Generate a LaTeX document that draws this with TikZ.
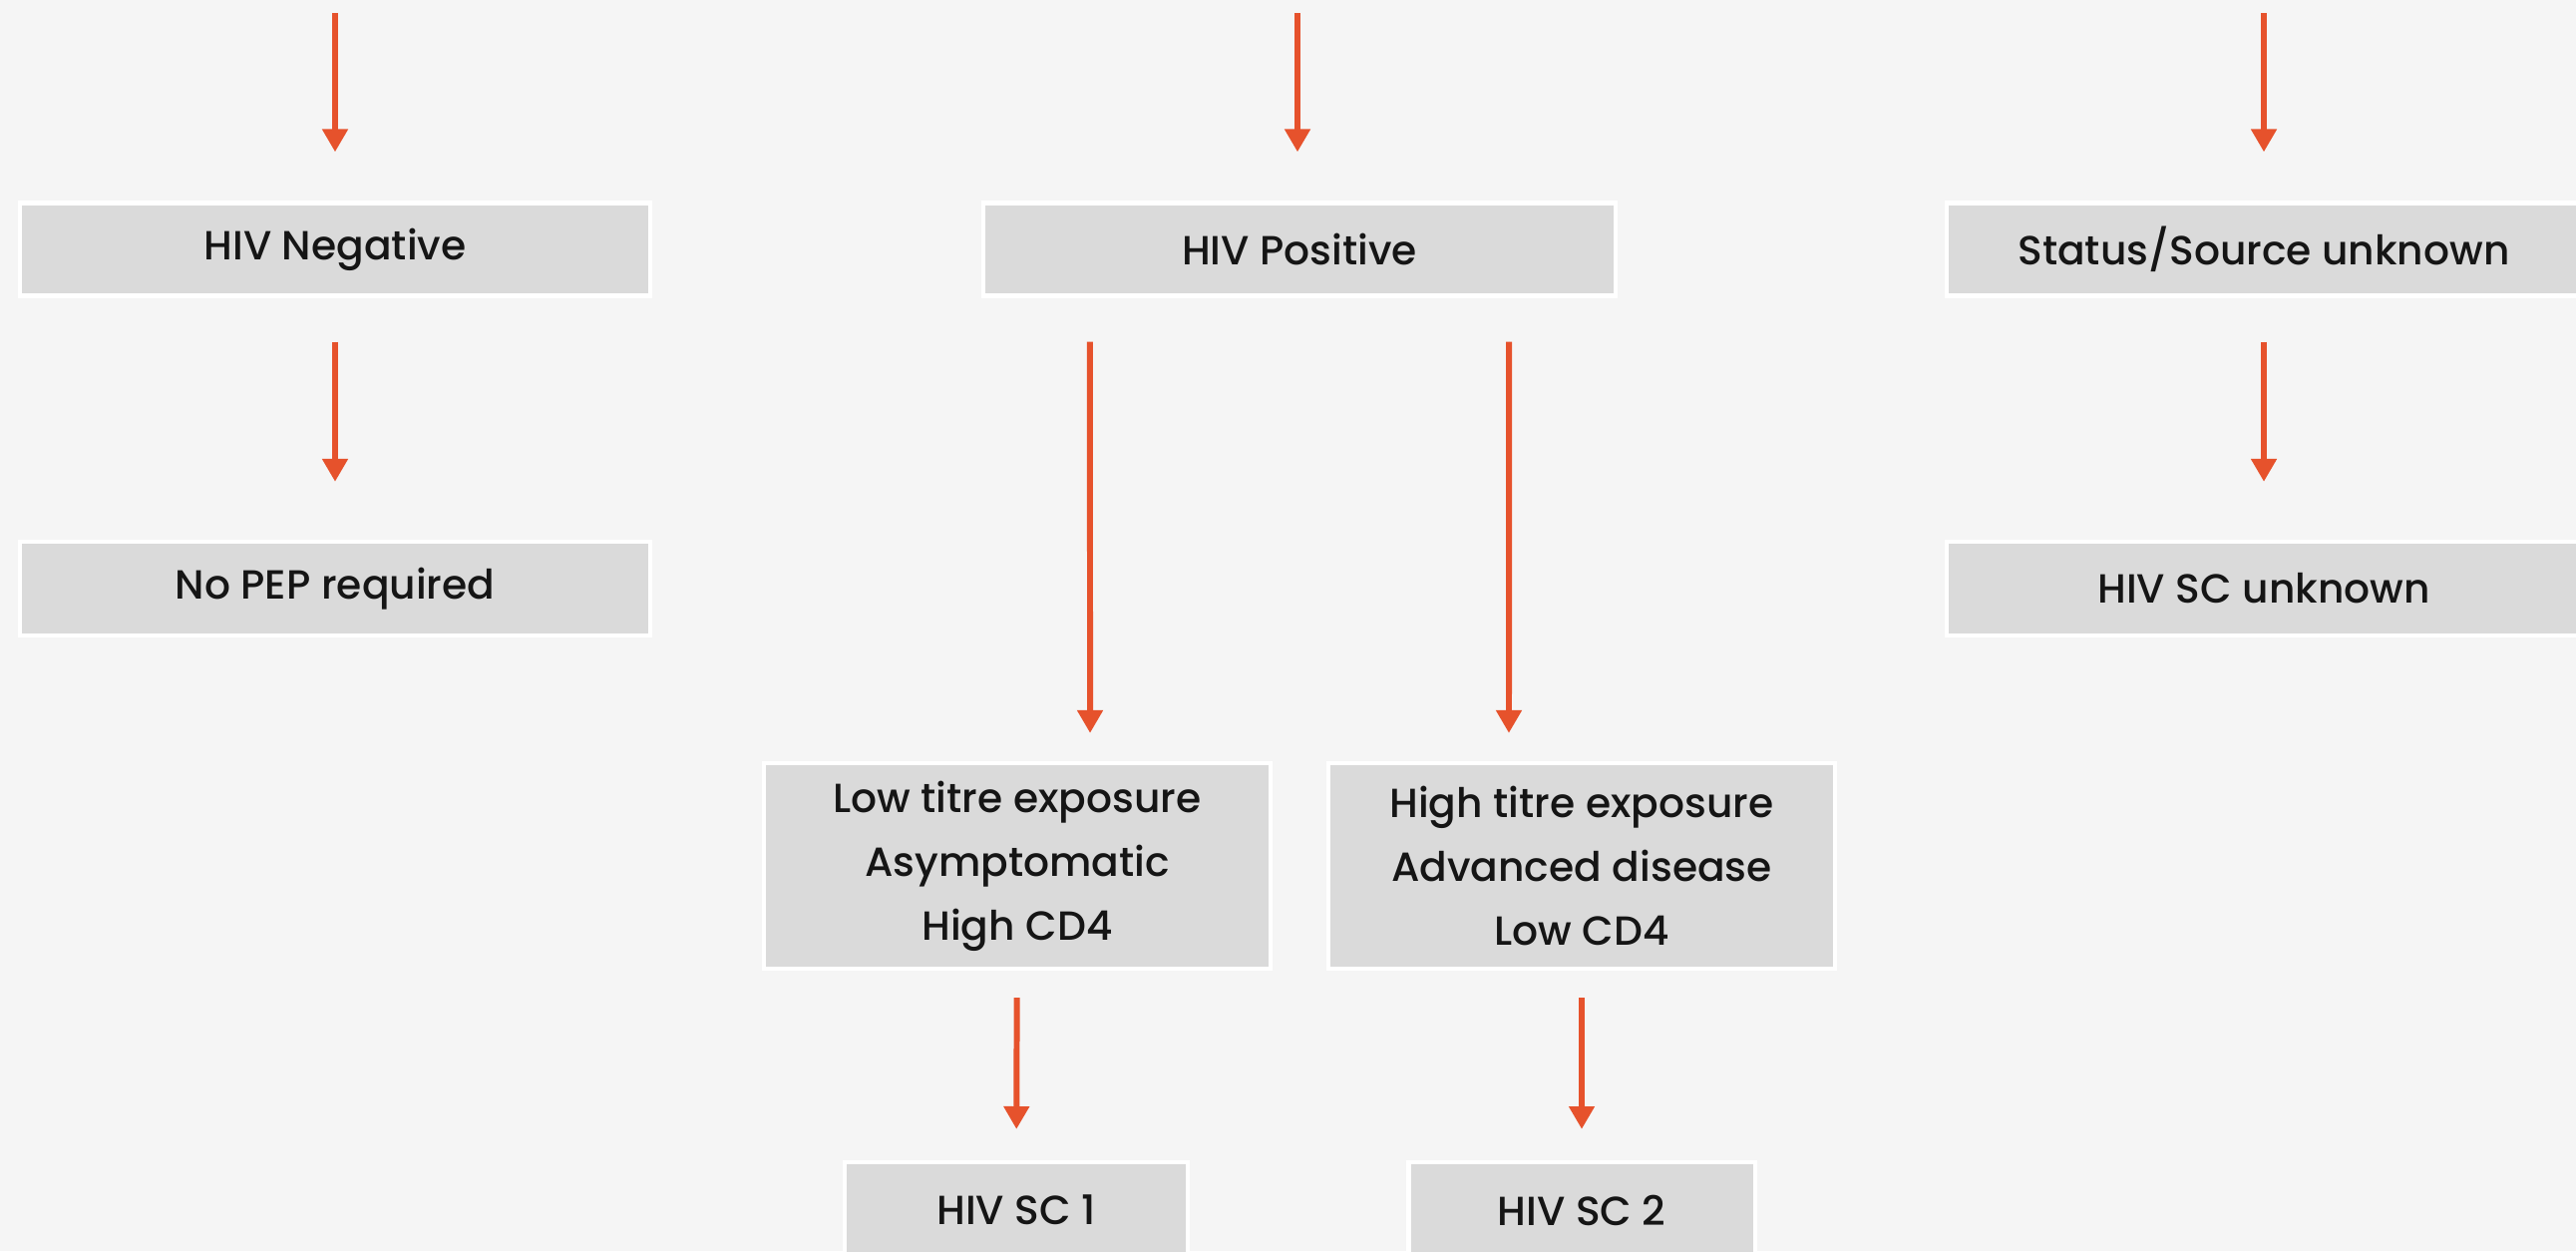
\documentclass[tikz,border=0pt]{standalone}
\usepackage{fontspec}
\IfFontExistsTF{Poppins Medium}{\setmainfont{Poppins Medium}}{\setmainfont{Poppins}}
\usepackage{xcolor}
\usetikzlibrary{arrows.meta, positioning}

\definecolor{bgGray}{HTML}{F5F5F5}
\definecolor{boxGray}{HTML}{DADADA}
\definecolor{arrowRed}{HTML}{E6522C}
\definecolor{textBlack}{HTML}{151515}

\begin{document}
\begin{tikzpicture}[>={Triangle[width=7pt,length=6.5pt]}, x=0.01cm, y=-0.01cm,
    box/.style={rectangle, fill=boxGray, draw=white, line width=1.2pt,
        text=textBlack, font=\fontsize{11.6}{18.2}\selectfont, align=center, inner sep=0pt},
    arr/.style={->, draw=arrowRed, fill=arrowRed, line width=1.7pt}]

    % =================================================================
    % 1. NỀN VÀ KHUNG HÌNH
    % =================================================================
    \fill[bgGray] (0,0) rectangle (2583,1254);
    \useasboundingbox (0,0) rectangle (2583,1254);
    \clip (0,0) rectangle (2583,1254);

    % =================================================================
    % 2. CÁC HỘP TRẠNG THÁI (hàng trên)
    % =================================================================
    \node[box, minimum width=6.32cm, minimum height=0.93cm] (Neg) at (336,250) {HIV Negative};
    \node[box, minimum width=6.34cm, minimum height=0.93cm] (Pos) at (1303,250) {HIV Positive};
    \node[box, minimum width=6.36cm, minimum height=0.93cm] (Unk) at (2270,250) {Status/Source unknown};

    % =================================================================
    % 3. CÁC HỘP KẾT QUẢ
    % =================================================================
    \node[box, minimum width=6.32cm, minimum height=0.94cm] (NoPep) at (336,590) {No PEP required};
    \node[box, minimum width=6.36cm, minimum height=0.94cm] (ScUnk) at (2270,590) {HIV SC unknown};

    \node[box, minimum width=5.08cm, minimum height=2.06cm] (Low) at (1020,868)
        {Low titre exposure\\Asymptomatic\\High CD4};
    \node[box, minimum width=5.07cm, minimum height=2.06cm] (High) at (1586,868)
        {High titre exposure\\Advanced disease\\Low CD4};

    \node[box, minimum width=3.44cm, minimum height=0.96cm] (Sc1) at (1019,1213) {HIV SC 1};
    \node[box, minimum width=3.47cm, minimum height=0.96cm] (Sc2) at (1586,1213) {HIV SC 2};

    % =================================================================
    % 4. MŨI TÊN
    % =================================================================
    % Điểm đầu của ba mũi tên trên cùng (sát mép trên)
    \coordinate (T1) at (336,13);
    \coordinate (T2) at (1301,13);
    \coordinate (T3) at (2270,13);

    \draw[arr, shorten >=0.49cm] (T1) -- (T1 |- Neg.north);
    \draw[arr, shorten >=0.49cm] (T2) -- (T2 |- Pos.north);
    \draw[arr, shorten >=0.49cm] (T3) -- (T3 |- Unk.north);

    \draw[arr, shorten <=0.44cm, shorten >=0.58cm] (Neg) -- (NoPep);
    \draw[arr, shorten <=0.44cm, shorten >=0.58cm] (Unk) -- (ScUnk);

    % Hai nhánh của HIV Positive (lệch vào trong so với tâm hộp dưới)
    \draw[arr, shorten <=0.44cm, shorten >=0.28cm]
        ([xshift=-2.1cm]Pos.south) -- ([xshift=0.73cm]Low.north);
    \draw[arr, shorten <=0.44cm, shorten >=0.28cm]
        ([xshift=2.1cm]Pos.south) -- ([xshift=-0.73cm]High.north);

    \draw[arr, shorten <=0.27cm, shorten >=0.31cm] (Low) -- (Sc1);
    \draw[arr, shorten <=0.27cm, shorten >=0.31cm] (High) -- (Sc2);

\end{tikzpicture}
\end{document}
